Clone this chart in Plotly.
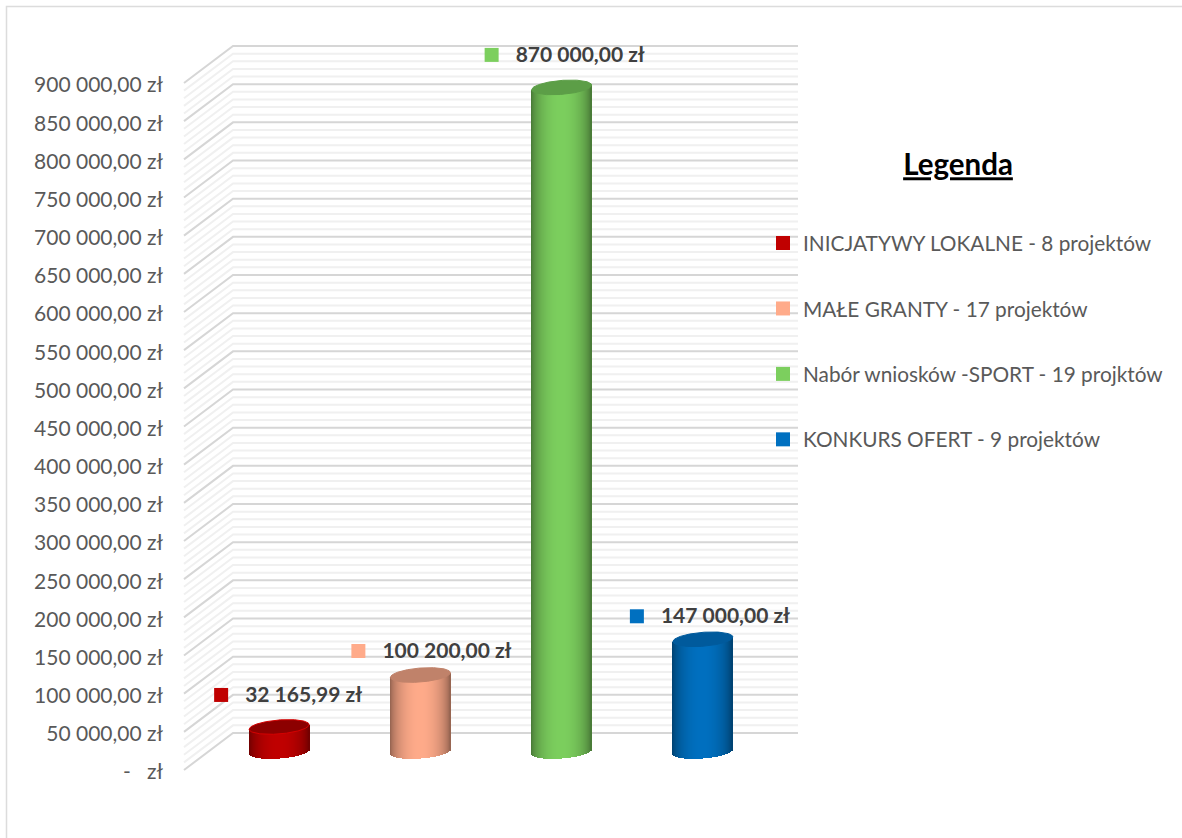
import numpy as np
import plotly.graph_objects as go

# ---------- data ----------
series_names = ["INICJATYWY LOKALNE - 8 projektów", "MAŁE GRANTY - 17 projektów",
                "Nabór wniosków -SPORT - 19 projktów", "KONKURS OFERT - 9 projektów"]
series_values = [32165.99, 100200.00, 870000.00, 147000.00]
major_ticks = list(range(0, 900001, 50000))
minor_ticks = [v for v in range(0, 900001, 10000) if v % 50000]

# ---------- styles ----------
base_colors = [(192, 0, 0), (255, 171, 138), (124, 207, 94), (0, 112, 192)]
cap_colors = ["#8c0000", "#c0826a", "#5c9e47", "#005a9c"]
cap_lines = ["#d40000", "#c0826a", "#5c9e47", "#005a9c"]
key_colors = ["#c00000", "#ffab8a", "#7ccf5e", "#0070c0"]
label_dx = [-58, -62, -70, -66]     # key offset from cylinder centre, px
label_dy = [32, 24, 32.5, 23]       # key offset above cylinder top, px
FONT = "Lato"

# ---------- pixel geometry of the 3-D frame ----------
W, H = 1182, 838
PX_ZERO, PX_900 = 772.0, 85.0       # axis pixel rows of 0 and 900 000 (tick-label rows)
VAL_PER_PX = 900000 / (PX_ZERO - PX_900)
LIFT = 2.0 * VAL_PER_PX             # the front floor edge sits 2 px above the tick-label row
WALL_LEFT, CAT_PX = 233.0, 141.25   # back-wall left edge, category width
AXIS_PX = 164.0
DEPTH_X, DEPTH_Y = 49.0 / CAT_PX, 37.0 * VAL_PER_PX
A, B, SLOPE = 30.0, 7.0, 0.077      # cylinder ellipse (px)

def x_of(px):
    return (px - WALL_LEFT) / CAT_PX

def pl_amount(v):
    return f"{v:,.2f}".replace(",", "\u00a0").replace(".", ",") + " zł"

tick_text = ["-\u00a0\u00a0\u00a0zł" if v == 0 else pl_amount(v) for v in major_ticks]

def grid_path(values):
    parts = []
    for v in values:
        y0 = v + LIFT
        parts.append(f"M {-DEPTH_X} {y0} L 0 {y0 + DEPTH_Y} L 4 {y0 + DEPTH_Y}")
    return " ".join(parts)

fig = go.Figure()

dx = np.arange(-A + 0.5, A, 1.0)
dense = np.linspace(-A, A, 121)
for i, (name, val) in enumerate(zip(series_names, series_values)):
    cx = i + 0.5 - DEPTH_X / 2
    base = LIFT + DEPTH_Y / 2
    t = np.clip(np.abs(dx) / A, 0, 1)
    shade = 0.55 + 0.45 * np.sqrt(1 - t ** 2) ** 1.3
    colors = [f"rgb({int(base_colors[i][0]*s)},{int(base_colors[i][1]*s)},{int(base_colors[i][2]*s)})" for s in shade]
    lower = base + (SLOPE * dx - B * np.sqrt(1 - t ** 2)) * VAL_PER_PX
    upper = base + val + SLOPE * dx * VAL_PER_PX
    fig.add_trace(go.Bar(x=cx + dx / CAT_PX, y=upper - lower, base=lower, width=1.0 / CAT_PX,
                         marker=dict(color=colors, line=dict(width=0)),
                         showlegend=False, hoverinfo="skip"))
    # top cap
    tt = np.clip(np.abs(dense) / A, 0, 1)
    top_u = SLOPE * dense + B * np.sqrt(1 - tt ** 2)
    top_l = SLOPE * dense - B * np.sqrt(1 - tt ** 2)
    cap_x = np.concatenate([dense, dense[::-1]])
    cap_y = base + val + np.concatenate([top_u, top_l[::-1]]) * VAL_PER_PX
    fig.add_trace(go.Scatter(x=cx + cap_x / CAT_PX, y=cap_y, mode="lines", fill="toself",
                             fillcolor=cap_colors[i], line=dict(color=cap_lines[i], width=1),
                             showlegend=False, hoverinfo="skip"))
    # data label key (also the legend entry) and value label
    key_x = cx + label_dx[i] / CAT_PX
    key_y = base + val + label_dy[i] * VAL_PER_PX
    fig.add_trace(go.Scatter(x=[key_x], y=[key_y], mode="markers", name=name,
                             legendgroup=name,
                             marker=dict(symbol="square", size=14, color=key_colors[i]),
                             hoverinfo="skip"))
    fig.add_trace(go.Scatter(x=[key_x + 24 / CAT_PX], y=[key_y - 1.5 * VAL_PER_PX], mode="text",
                             text=[pl_amount(val)], textposition="middle right",
                             textfont=dict(family=FONT, size=21, color="#404040", weight="bold"),
                             showlegend=False, hoverinfo="skip", cliponaxis=False))

border = dict(type="rect", xref="paper", yref="paper", x0=6.5 / W, x1=1.01,
              y0=-0.01, y1=1 - 6.5 / H, line=dict(color="#dcdcdc", width=1.5),
              layer="below")
minor_shape = dict(type="path", xref="x", yref="y", path=grid_path(minor_ticks),
                   line=dict(color="#f0f0f0", width=2), layer="below")
major_shape = dict(type="path", xref="x", yref="y", path=grid_path(major_ticks),
                   line=dict(color="#d6d6d6", width=2), layer="below")

fig.update_layout(
    width=W, height=H, margin=dict(l=0, r=0, t=0, b=0),
    paper_bgcolor="white", plot_bgcolor="rgba(0,0,0,0)",
    barmode="overlay", bargap=0, font=dict(family=FONT, color="#595959"),
    shapes=[border, minor_shape, major_shape],
    title=dict(text="<b><u>Legenda</u></b>", x=958 / W, xanchor="center", xref="paper",
               y=1 - 165 / H, yanchor="middle", yref="paper",
               font=dict(family=FONT, size=29.5, color="black")),
    xaxis=dict(domain=[AXIS_PX / W, 1], range=[x_of(AXIS_PX), x_of(W)], visible=False),
    yaxis=dict(domain=[0, 1],
               range=[(PX_ZERO - H) * VAL_PER_PX, PX_ZERO * VAL_PER_PX],
               tickmode="array", tickvals=major_ticks, ticktext=tick_text,
               tickfont=dict(family=FONT, size=21, color="#595959"),
               showgrid=False, zeroline=False, showline=False, ticks=""),
    legend=dict(x=763 / W, xanchor="left", y=1 - 223 / H, yanchor="top",
                bgcolor="rgba(0,0,0,0)", tracegroupgap=35.4,
                font=dict(family=FONT, size=20.8, color="#595959")),
)

fig.write_html("out.html", config={"displayModeBar": False},
               post_script="document.body.style.margin='0';document.documentElement.style.overflow='hidden';")
